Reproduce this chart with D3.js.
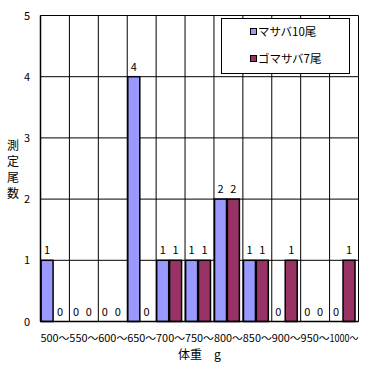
<!DOCTYPE html>
<html><head><meta charset="utf-8">
<script src="https://cdn.jsdelivr.net/npm/d3@7"></script>
<style>
body{margin:0;background:#fff;}
text{font-family:"Noto Sans CJK JP","Liberation Sans",sans-serif;fill:#000;}
</style></head>
<body><svg id="c" width="375" height="366"></svg>
<script>
const categories = ["500～","550～","600～","650～","700～","750～","800～","850～","900～","950～","1000～"];
const seriesNames = ["マサバ10尾","ゴマサバ7尾"];
const masaba = [1,0,0,4,1,1,2,1,0,0,0];
const gomasaba = [0,0,0,0,1,1,2,1,1,0,1];
const colors = ["#9999FF","#993366"];
const yTicks = [0,1,2,3,4,5];

const svg = d3.select("#c");
const L=40.5, R=358.5, T=15.5, B=321.5;
const x = d3.scaleBand().domain(categories).range([L,R]).padding(0);
const y = d3.scaleLinear().domain([0,5]).range([B,T]);
const bw = x.bandwidth();
const offs = [0.02, 0.465], wfrac = 0.415;

// grid
const g = svg.append("g");
yTicks.forEach(t=>{
  g.append("line").attr("x1",L).attr("x2",R).attr("y1",y(t)).attr("y2",y(t)).attr("stroke","#000").attr("stroke-width",1);
});
categories.forEach((c,i)=>{
  g.append("line").attr("x1",x(c)).attr("x2",x(c)).attr("y1",T).attr("y2",B).attr("stroke","#000");
});
g.append("line").attr("x1",R).attr("x2",R).attr("y1",T).attr("y2",B).attr("stroke","#000");

// bars
const series=[masaba,gomasaba];
series.forEach((vals,s)=>{
  const gs = svg.append("g");
  vals.forEach((v,i)=>{
    const x0 = x(categories[i]) + bw*offs[s];
    if(v>0){
      gs.append("rect").attr("x",x0).attr("y",y(v)).attr("width",bw*wfrac).attr("height",y(0)-y(v))
        .attr("fill",colors[s]).attr("stroke","#000").attr("stroke-width",1.5);
    }
    gs.append("text").attr("x",x0+bw*wfrac/2).attr("y",y(v)-6).attr("text-anchor","middle")
      .attr("font-size",11).text(v);
  });
});

// axes lines
svg.append("line").attr("x1",L).attr("x2",L).attr("y1",T).attr("y2",B).attr("stroke","#000").attr("stroke-width",1.5);
svg.append("line").attr("x1",L).attr("x2",R).attr("y1",B).attr("y2",B).attr("stroke","#000").attr("stroke-width",1.5);

// y labels
yTicks.forEach(t=>{
  svg.append("text").attr("x",30).attr("y",y(t)+4).attr("text-anchor","end").attr("font-size",11).text(t);
});
// y title
const yt = "測定尾数".split("");
yt.forEach((ch,i)=>{
  svg.append("text").attr("x",13).attr("y",150+i*16).attr("text-anchor","middle").attr("font-size",12).text(ch);
});
// x labels
categories.forEach(c=>{
  svg.append("text").attr("x",x(c)+bw/2).attr("y",342).attr("text-anchor","middle").attr("font-size",10.5)
    .attr("textLength",29).attr("lengthAdjust","spacingAndGlyphs").text(c);
});
svg.append("text").attr("x",178).attr("y",359).attr("font-size",12).text("体重　g");

// legend
const lg = svg.append("g");
lg.append("rect").attr("x",221.5).attr("y",18.5).attr("width",128).attr("height",55).attr("fill","#fff").attr("stroke","#000");
seriesNames.forEach((n,i)=>{
  const yy = 32 + i*27;
  lg.append("rect").attr("x",250.5).attr("y",yy-3.5).attr("width",6).attr("height",6).attr("fill",colors[i]).attr("stroke","#000");
  lg.append("text").attr("x",258).attr("y",yy+4).attr("font-size",11.5).text(n);
});
</script></body></html>
